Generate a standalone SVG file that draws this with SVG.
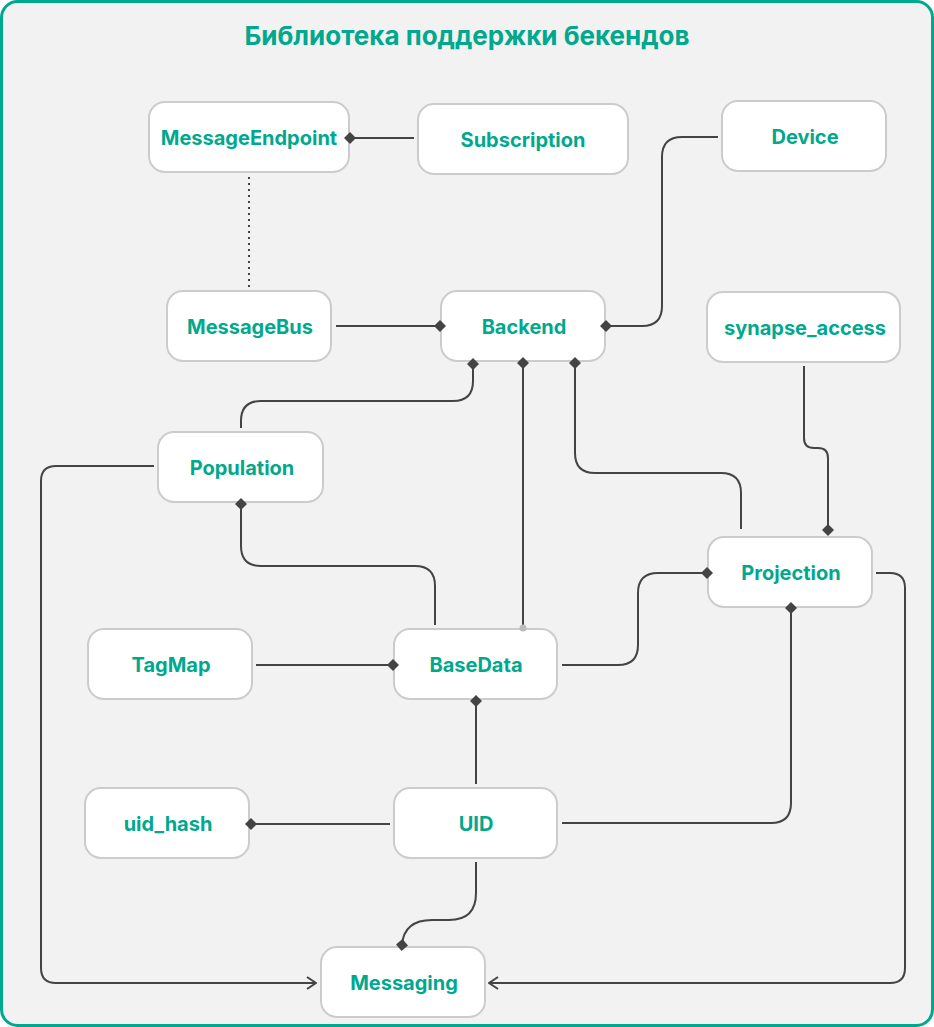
<svg xmlns="http://www.w3.org/2000/svg" width="934" height="1027" viewBox="0 0 934 1027">
<style>
.frame{fill:#f2f2f2;stroke:#00a88e;stroke-width:3}
.title{font-family:Inter,"Liberation Sans",sans-serif;font-weight:700;font-size:26px;fill:#00a88e;text-anchor:middle}
.node rect{fill:#fff;stroke:#cccccc;stroke-width:2}
.node text{font-family:Inter,"Liberation Sans",sans-serif;font-weight:700;font-size:20px;fill:#00a88e;text-anchor:middle;dominant-baseline:central}
.c{fill:none;stroke:#444;stroke-width:2}
.d{marker-end:url(#dia)}
.a{marker-end:url(#arr)}
.dot{stroke-dasharray:2 4}
</style>
<defs>
<marker id="dia" viewBox="0 0 12 12" refX="6" refY="6" markerWidth="12" markerHeight="12" markerUnits="userSpaceOnUse" orient="auto">
<path d="M0,6 L6,0 L12,6 L6,12 z" fill="#444"/>
</marker>
<marker id="arr" viewBox="0 0 12 14" refX="11" refY="7" markerWidth="12" markerHeight="14" markerUnits="userSpaceOnUse" orient="auto">
<path d="M2,1 L11,7 L2,13" fill="none" stroke="#444" stroke-width="2"/>
</marker>
</defs>
<rect class="frame" x="1.5" y="1.5" width="931" height="1024" rx="16"/>
<text class="title" x="467" y="45">Библиотека поддержки бекендов</text>
<g id="MessageEndpoint" class="node"><rect x="149" y="102" width="200" height="70" rx="16"/><text x="249" y="138">MessageEndpoint</text></g>
<g id="Subscription" class="node"><rect x="418" y="104" width="210" height="70" rx="16"/><text x="523" y="140">Subscription</text></g>
<g id="Device" class="node"><rect x="722" y="101" width="164" height="70" rx="16"/><text x="805" y="137">Device</text></g>
<g id="MessageBus" class="node"><rect x="167" y="291" width="164" height="70" rx="16"/><text x="250" y="327">MessageBus</text></g>
<g id="Backend" class="node"><rect x="441" y="291" width="164" height="70" rx="16"/><text x="524" y="327">Backend</text></g>
<g id="synapse_access" class="node"><rect x="707" y="292" width="193" height="70" rx="16"/><text x="805" y="328">synapse_access</text></g>
<g id="Population" class="node"><rect x="158" y="432" width="165" height="70" rx="16"/><text x="242" y="468">Population</text></g>
<g id="Projection" class="node"><rect x="708" y="537" width="164" height="70" rx="16"/><text x="791" y="573">Projection</text></g>
<g id="TagMap" class="node"><rect x="88" y="629" width="164" height="70" rx="16"/><text x="171" y="665">TagMap</text></g>
<g id="BaseData" class="node"><rect x="394" y="629" width="163" height="70" rx="16"/><text x="476" y="665">BaseData</text></g>
<g id="uid_hash" class="node"><rect x="85" y="788" width="164" height="70" rx="16"/><text x="168" y="824">uid_hash</text></g>
<g id="UID" class="node"><rect x="394" y="788" width="163" height="70" rx="16"/><text x="476" y="824">UID</text></g>
<g id="Messaging" class="node"><rect x="321" y="947" width="164" height="70" rx="16"/><text x="404" y="983">Messaging</text></g>
<g id="connectors">
<path class="c d" d="M414,138 H350"/>
<path class="c dot" d="M249,177 V287"/>
<path class="c d" d="M336,326 H440"/>
<path class="c d" d="M718,137 H682 Q662,137 662,157 V306 Q662,326 642,326 H606"/>
<path class="c d" d="M241,428 V421 Q241,401 261,401 H453 Q473,401 473,381 V364"/>
<path class="c d" d="M523,625 V363"/>
<path class="c d" d="M741,529 V493 Q741,473 721,473 H595 Q575,473 575,453 V363"/>
<path class="c d" d="M804,366 V438 Q804,448 814,448 H818 Q828,448 828,458 V530"/>
<path class="c d" d="M435,625 V586 Q435,566 415,566 H261 Q241,566 241,546 V504"/>
<path class="c d" d="M256,665 H393"/>
<path class="c d" d="M562,665 H618 Q638,665 638,645 V593 Q638,573 658,573 H707"/>
<path class="c d" d="M476,784 V701"/>
<path class="c d" d="M390,824 H251"/>
<path class="c d" d="M562,823 H771 Q791,823 791,803 V608"/>
<path class="c d" d="M476,862 V893 Q476,920 449,920 H432 Q404,920 402,945"/>
<path class="c a" d="M154,466 H56 Q41,466 41,481 V968 Q41,983 56,983 H316"/>
<path class="c a" d="M876,573 H890 Q905,573 905,588 V968 Q905,983 890,983 H489"/>
<circle cx="523" cy="628" r="3.5" fill="#bbb"/>
</g>
</svg>
